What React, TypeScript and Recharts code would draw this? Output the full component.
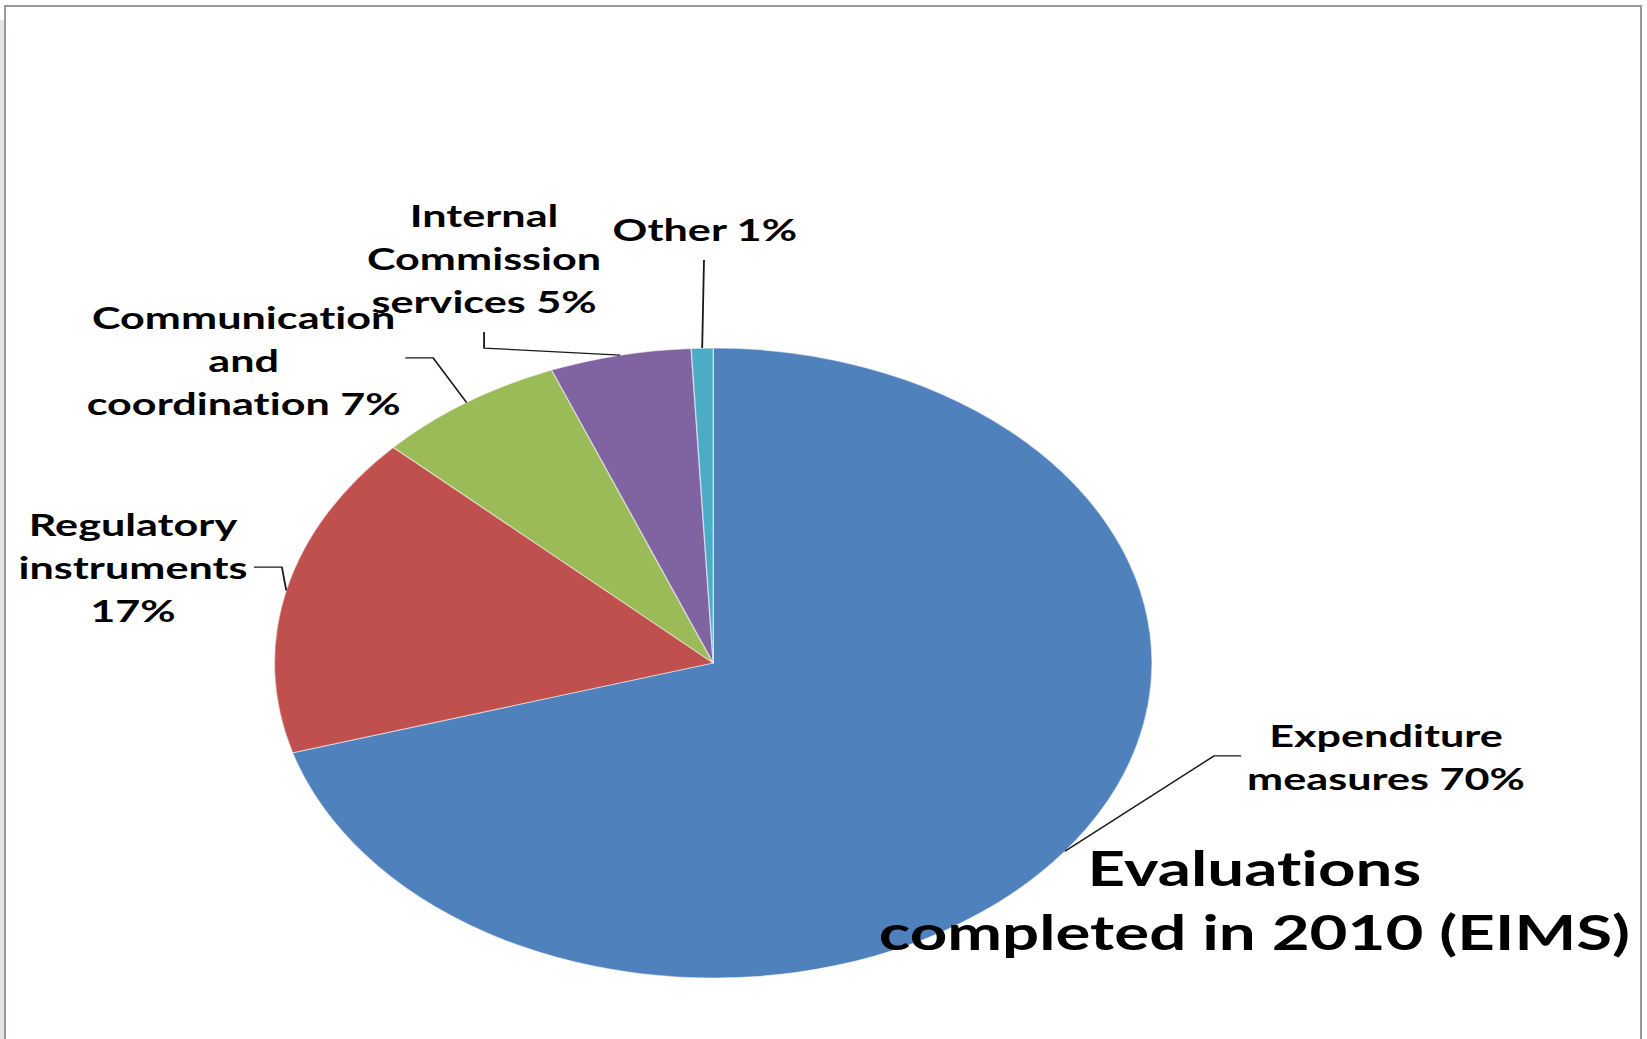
import React from 'react';
import { PieChart, Pie, Cell } from 'recharts';

// ---- data ----
const categories = [
  'Expenditure measures',
  'Regulatory instruments',
  'Communication and coordination',
  'Internal Commission services',
  'Other',
];
const shares = [70.4, 16.6, 7, 5.2, 0.8];
const labelLines = [
  ['Expenditure', 'measures 70%'],
  ['Regulatory', 'instruments', '17%'],
  ['Communication', 'and', 'coordination 7%'],
  ['Internal', 'Commission', 'services 5%'],
  ['Other 1%'],
];
const titleLines = ['Evaluations', 'completed in 2010 (EIMS)'];

// ---- style / layout ----
const colors = ['#4F81BD', '#C0504D', '#9BBB59', '#8064A2', '#4BACC6'];
const W = 1647;
const H = 1039;
const SX = 1.393; // horizontal stretch of the whole chart
const WU = W / SX;
const FONT = 'Lato, "Open Sans", sans-serif';
const LABEL_SIZE = 31;
const LINE_H = 43;
const TITLE_SIZE = 47;
const TEXT_STYLE: React.CSSProperties = { fontVariantLigatures: 'none' };

// leader line elbows and text offsets relative to the slice's outer anchor point
const labelLayout = [
  { path: [[107, -95.4], [126.5, -95.4]], text: [230.5, -116.4] },
  { path: [[-3.1, -23.4], [-23.2, -23.4]], text: [-110, -66.4] },
  { path: [[-24, -44.5], [-44, -44.5]], text: [-160, -85.5] },
  { path: [[-97.7, -7.1], [-97.7, -23.1]], text: [-97.7, -140.1] },
  { path: [[1.3, -88]], text: [1.9, -119] },
];

const data = categories.map((name, i) => ({ name, value: shares[i] }));

const renderLabel = (props: any) => {
  const { cx, cy, midAngle, outerRadius, index } = props;
  const rad = Math.PI / 180;
  const ax = cx + outerRadius * Math.cos(-midAngle * rad);
  const ay = cy + outerRadius * Math.sin(-midAngle * rad);
  const L = labelLayout[index];
  const pts = [[ax, ay], ...L.path.map(([dx, dy]) => [ax + dx, ay + dy])];
  const lines = labelLines[index];
  return (
    <g key={`lbl-${index}`}>
      <polyline
        points={pts.map((p) => p.join(',')).join(' ')}
        fill="none"
        stroke="#1a1a1a"
        strokeWidth={1.3}
        vectorEffect="non-scaling-stroke"
      />
      {lines.map((t, i) => (
        <text
          key={i}
          x={ax + L.text[0]}
          y={ay + L.text[1] + i * LINE_H}
          textAnchor="middle"
          dominantBaseline="central"
          fontFamily={FONT}
          fontWeight={700}
          fontSize={LABEL_SIZE}
          fill="#000"
          style={TEXT_STYLE}
        >
          {t}
        </text>
      ))}
    </g>
  );
};

export default function App() {
  return (
    <div
      style={{
        position: 'absolute',
        left: 0,
        top: 0,
        width: W,
        height: H,
        overflow: 'hidden',
        background: '#fff',
      }}
    >
      <div
        style={{
          position: 'absolute',
          left: 0,
          top: 20,
          width: 4,
          height: H,
          background: '#e3e5e9',
        }}
      />
      <div
        style={{
          position: 'absolute',
          left: 4,
          top: 5,
          width: 1638,
          height: H + 50,
          border: '2px solid #9a9a9a',
          boxSizing: 'border-box',
        }}
      />
      <div
        style={{
          position: 'absolute',
          left: 0,
          top: 0,
          width: WU,
          height: H,
          transform: `scaleX(${SX})`,
          transformOrigin: '0 0',
        }}
      >
        <PieChart width={WU} height={H} margin={{ top: 0, right: 0, bottom: 0, left: 0 }}>
          <Pie
            data={data}
            dataKey="value"
            nameKey="name"
            cx={512}
            cy={663}
            outerRadius={315}
            startAngle={90}
            endAngle={-270}
            isAnimationActive={false}
            label={renderLabel}
            labelLine={false}
            stroke="#ffffff"
            strokeOpacity={0.5}
            strokeWidth={1}
          >
            {data.map((d, i) => (
              <Cell key={d.name} fill={colors[i]} />
            ))}
          </Pie>
        </PieChart>
        <svg
          width={WU}
          height={H}
          style={{ position: 'absolute', left: 0, top: 0, pointerEvents: 'none' }}
        >
          {titleLines.map((t, i) => (
            <text
              key={t}
              x={900.5}
              y={868 + i * 64}
              textAnchor="middle"
              dominantBaseline="central"
              fontFamily={FONT}
              fontWeight={700}
              fontSize={TITLE_SIZE}
              fill="#000"
              style={TEXT_STYLE}
            >
              {t}
            </text>
          ))}
        </svg>
      </div>
    </div>
  );
}
